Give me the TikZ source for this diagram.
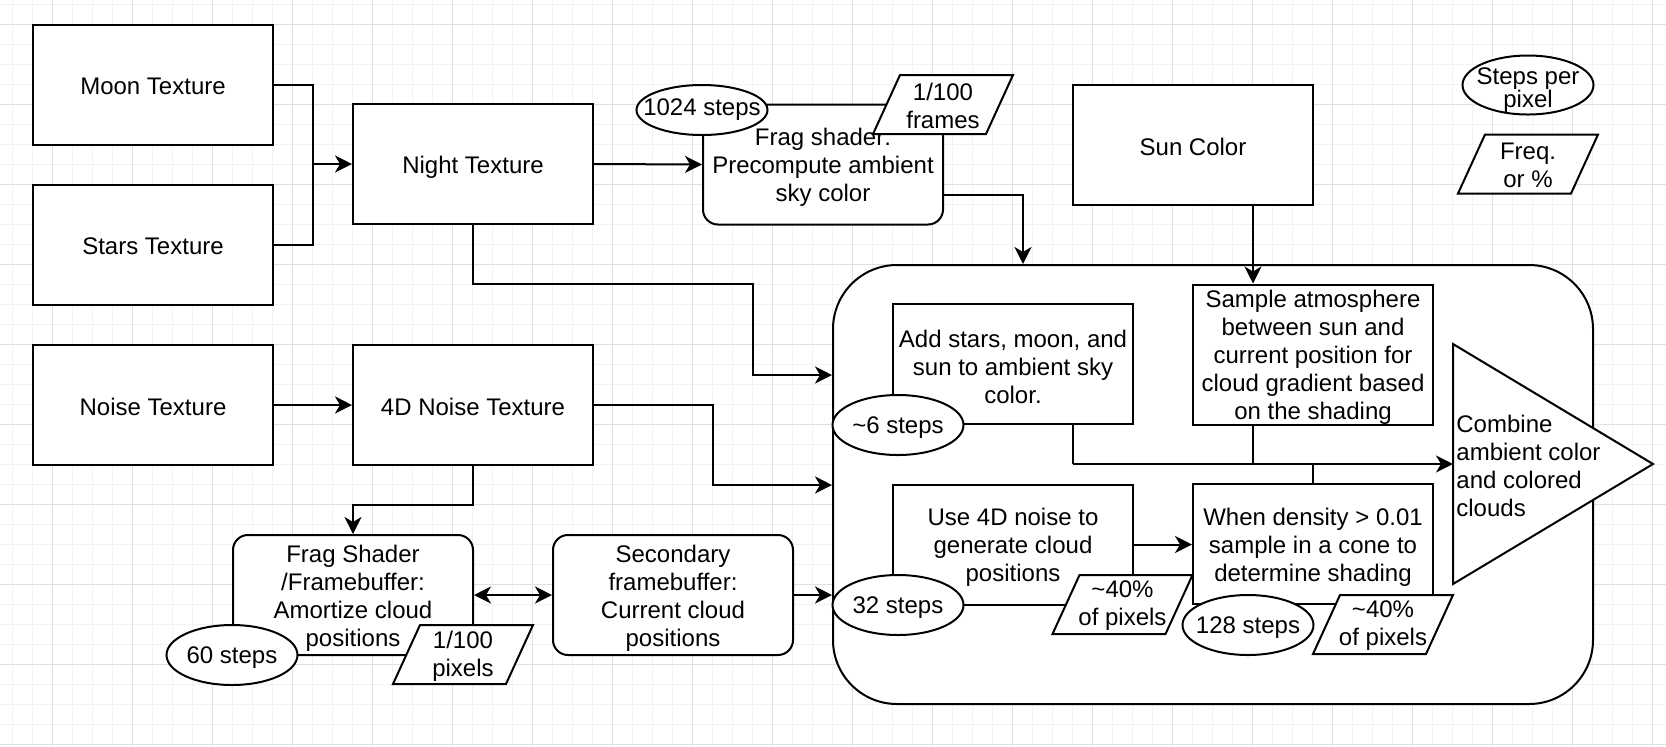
\documentclass[tikz,border=0pt]{standalone}
\usepackage{fontspec}
\setmainfont{Liberation Sans}
\usetikzlibrary{arrows.meta,shapes.geometric,calc}
\newcommand\mypara[4]{%
  \draw[shp] (#2-70,#3+29.5) -- (#2+43,#3+29.5) -- (#2+70,#3-29.5) -- (#2-43,#3-29.5) -- cycle;
  \node[lbl, yshift=-0.7pt] (#1) at (#2,#3) {#4};}
\begin{document}
\begin{tikzpicture}[x=0.5pt,y=-0.5pt,
  every node/.style={font=\fontsize{12}{14}\selectfont},
  shp/.style={draw, line width=1pt, fill=white},
  lbl/.style={align=center, inner sep=0pt},
  box/.style={shp, minimum width=120pt, minimum height=60pt, inner sep=0pt,
    label={[lbl, yshift=-0.8pt]center:{#1}}},
  mbox/.style={shp, minimum width=120pt, minimum height=60pt, inner sep=0pt,
    label={[lbl, yshift=-1.6pt]center:{#1}}},
  rbox/.style={mbox={#1}, rounded corners=7.5pt},
  ellip/.style={ellipse, shp, minimum width=65.5pt, minimum height=30pt, inner sep=0pt},
  elbl/.style={lbl, yshift=-1.5pt},
  conn/.style={line width=1pt},
  tip/.tip={Stealth[length=8.5pt,width=8.5pt,inset=2.5pt]},
  arr/.style={conn, -tip},
  darr/.style={conn, tip-tip},
  minorgrid/.style={draw=black!5, line width=0.5pt},
  majorgrid/.style={draw=black!12, line width=0.5pt},
]
\useasboundingbox (0,0) rectangle (1666,746);
\fill[white] (0,0) rectangle (1666,746);
% grid
\foreach \x in {12,32,...,1666} \draw[minorgrid] (\x,0) -- (\x,746);
\foreach \y in {4,24,...,746} \draw[minorgrid] (0,\y) -- (1666,\y);
\foreach \x in {52,132,...,1666} \draw[majorgrid] (\x,0) -- (\x,746);
\foreach \y in {24,104,...,746} \draw[majorgrid] (0,\y) -- (1666,\y);

% container
\node[shp, rounded corners=32pt, minimum width=380pt, minimum height=219.5pt, inner sep=0pt] (cont) at (1213,484.5) {};

% boxes
\node[box={Moon Texture}] (moon) at (153,85) {};
\node[box={Stars Texture}] (stars) at (153,245) {};
\node[box={Noise Texture}] (noise) at (153,405) {};
\node[mbox={Night Texture}] (night) at (473,164) {};
\node[box={4D Noise Texture}] (noised) at (473,405) {};
\node[rbox={Frag shader:\\Precompute ambient\\sky color}] (frag) at (823,164.5) {};
\node[box={Sun Color}] (sun) at (1193,145) {};
\node[rbox={Frag Shader\\/Framebuffer:\\Amortize cloud\\positions}] (fbuf) at (353,595) {};
\node[rbox={Secondary\\framebuffer:\\Current cloud\\positions}] (sec) at (673,595) {};
\node[mbox={Add stars, moon, and\\sun to ambient sky\\color.}] (add) at (1013,364) {};
\node[mbox={Sample atmosphere\\between sun and\\current position for\\cloud gradient based\\on the shading}, minimum height=70pt] (samp) at (1313,354.5) {};
\node[mbox={Use 4D noise to\\generate cloud\\positions}] (use) at (1013,544.5) {};
\node[mbox={When density \textgreater{} 0.01\\sample in a cone to\\determine shading}] (dens) at (1313,544) {};

% triangle
\draw[shp] (1453,344) -- (1653,464) -- (1453,584) -- cycle;
\coordinate (triw) at (1453,464);
\node[anchor=west, align=left, inner sep=0pt] (comb) at (1456,466) {Combine\\ambient color\\and colored\\clouds};

% connectors
\coordinate (j1) at (313,164);
\draw[conn] (moon.east) -| (j1);
\draw[conn] (stars.east) -| (j1);
\draw[arr] (j1) -- (night.west);
\draw[arr] (night.east) -- (frag.west);
\coordinate (c1) at (1023,195);
\draw[arr] (c1 -| frag.east) -- (c1) -- (c1 |- cont.north);
\coordinate (c2) at (1253,0);
\draw[arr] (c2 |- sun.south) -- (c2 |- samp.north);
\coordinate (c3) at (753,284);
\coordinate (c4) at (753,375);
\draw[arr] (night.south) |- (c3) -- (c4) -- (c4 -| cont.west);
\draw[arr] (noise.east) -- (noised.west);
\coordinate (c5) at (713,485);
\draw[arr] (noised.east) -| (c5) -- (c5 -| cont.west);
\coordinate (c6) at (353,505);
\draw[arr] (noised.south) |- (c6) -- (fbuf.north);
\draw[darr] (fbuf.east) -- (sec.west);
\draw[arr] (sec.east) -- (sec.east -| cont.west);
\draw[arr] (use.east) -- (use.east -| dens.west);
\coordinate (c7) at (1073,464);
\draw[conn] (c7 |- add.south) -- (c7);
\draw[arr] (c7) -- (triw);
\draw[conn] (c2 |- samp.south) -- (c2 |- triw);
\draw[conn] (dens.north) -- (dens.north |- triw);

% ellipses
\node[ellip, minimum height=25pt, label={[lbl]center:1024 steps}] (e1) at (702,110) {};
\node[ellip, minimum height=29.5pt, label={[lbl, yshift=-2.5pt, font=\fontsize{12}{11.6}\selectfont]center:Steps per\\pixel}] (e2) at (1528,85) {};
\node[ellip, label={[elbl]center:\textasciitilde6 steps}] (e3) at (898,425) {};
\node[ellip, label={[elbl]center:32 steps}] (e4) at (898,605) {};
\node[ellip, label={[elbl]center:128 steps}] (e5) at (1248,625) {};
\node[ellip, label={[elbl]center:60 steps}] (e6) at (232,655) {};

% parallelograms
\mypara{p1}{943}{104.5}{1/100\\frames}
\mypara{p2}{1528}{164}{Freq.\\or \%}
\mypara{p3}{463}{654.5}{1/100\\pixels}
\mypara{p4}{1122.5}{604.5}{\textasciitilde40\%\\of pixels}
\mypara{p5}{1383}{624.5}{\textasciitilde40\%\\of pixels}
\end{tikzpicture}
\end{document}
